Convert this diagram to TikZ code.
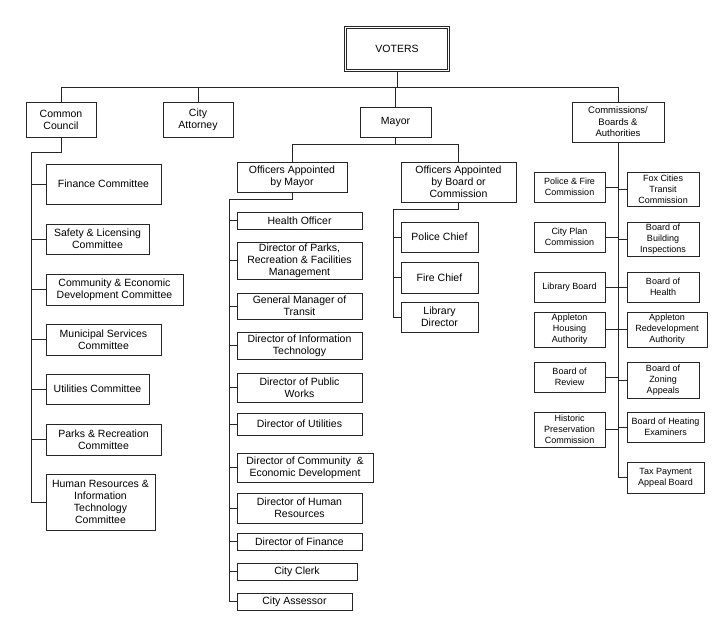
\documentclass[tikz,border=0pt]{standalone}
\usepackage{fontspec}
\setmainfont{Liberation Sans}
\usetikzlibrary{calc}
\tikzset{
	unit/.style={draw=black!85, line width=0.7pt, align=center, inner sep=1pt, font=\fontsize{10.5}{12}\selectfont},
	smallunit/.style={unit, font=\fontsize{9}{11}\selectfont},
	wire/.style={draw=black!85, line width=0.7pt},
}

\begin{document}
\begin{tikzpicture}[x=1pt, y=-1pt]
		%%%%% START %%%%%
		\useasboundingbox (0,0) rectangle (725,644);
		
		\node[unit, double, double distance=1.6pt, minimum width=103pt, minimum height=43pt] (voters) at (397,49) {VOTERS};
		
		\node[unit, minimum width=70pt, minimum height=35pt] (council) at (61,119.5) {Common\\Council};
		\node[unit, minimum width=70pt, minimum height=35pt] (attorney) at (198,119.5) {City\\Attorney};
		\node[unit, minimum width=71pt, minimum height=30pt] (mayor) at (395.5,122) {Mayor};
		\node[unit, font=\fontsize{9.5}{11.5}\selectfont, minimum width=92pt, minimum height=40pt] (boards) at (618,122) {Commissions/\\Boards \&\\Authorities};
		
		\coordinate (topbus) at (0,87);
		\draw[wire] (voters.south) -- (voters.south |- topbus);
		\draw[wire] (council.north) |- (boards.north |- topbus) -- (boards.north);
		\draw[wire] (attorney.north) -- (attorney.north |- topbus);
		\draw[wire] (mayor.north) -- (mayor.north |- topbus);
		
		%%%%% COUNCIL %%%%%
		\node[unit, minimum width=115pt, minimum height=40pt] (finance) at (103.5,184) {Finance Committee};
		\node[unit, minimum width=103pt, minimum height=30pt] (safety) at (97.5,239) {Safety \& Licensing\\Committee};
		\node[unit, minimum width=137pt, minimum height=31pt] (econ) at (114.5,289.5) {Community \& Economic\\Development Committee};
		\node[unit, minimum width=115pt, minimum height=31pt] (municipal) at (103.5,339.5) {Municipal Services\\Committee};
		\node[unit, minimum width=103pt, minimum height=30pt] (utilities) at (97.5,389) {Utilities Committee};
		\node[unit, minimum width=115pt, minimum height=31pt] (parks) at (103.5,439.5) {Parks \& Recreation\\Committee};
		\node[unit, minimum width=109pt, minimum height=56pt] (hrit) at (100.5,502) {Human Resources \&\\Information\\Technology\\Committee};
		
		\coordinate (cspine) at (31,152);
		\draw[wire] (council.south) |- (cspine) |- (hrit.west);
		\foreach \n in {finance,safety,econ,municipal,utilities,parks}
			\draw[wire] (\n.west) -- (\n.west -| cspine);
		
		%%%%% MAYOR %%%%%
		\node[unit, minimum width=110pt, minimum height=30pt] (bymayor) at (292,177) {Officers Appointed\\by Mayor};
		\node[unit, minimum width=115pt, minimum height=40pt] (byboard) at (458.5,182) {Officers Appointed\\by Board or\\Commission};
		
		\coordinate (mayorbus) at (0,144);
		\draw[wire] (mayor.south) -- (mayor.south |- mayorbus);
		\draw[wire] (bymayor.north) |- (byboard.north |- mayorbus) -- (byboard.north);
		
		\node[unit, minimum width=125pt, minimum height=17pt] (health) at (299.5,220.5) {Health Officer};
		\node[unit, minimum width=125pt, minimum height=37pt] (parksdir) at (299.5,260.5) {Director of Parks,\\Recreation \& Facilities\\Management};
		\node[unit, minimum width=125pt, minimum height=26pt] (transit) at (299.5,306) {General Manager of\\Transit};
		\node[unit, minimum width=125pt, minimum height=27pt] (infotech) at (299.5,345.5) {Director of Information\\Technology};
		\node[unit, minimum width=125pt, minimum height=29pt] (works) at (299.5,387.5) {Director of Public\\Works};
		\node[unit, minimum width=125pt, minimum height=22pt] (utildir) at (299.5,424) {Director of Utilities};
		\node[unit, minimum width=136pt, minimum height=29pt] (econdir) at (305,467.5) {Director of Community \ \&\\Economic Development};
		\node[unit, minimum width=125pt, minimum height=30pt] (hrdir) at (299.5,508) {Director of Human\\Resources};
		\node[unit, minimum width=125pt, minimum height=17pt] (financedir) at (299.5,541.5) {Director of Finance};
		\node[unit, minimum width=120pt, minimum height=17pt] (clerk) at (297,571.5) {City Clerk};
		\node[unit, minimum width=115pt, minimum height=17pt] (assessor) at (294.5,601.5) {City Assessor};
		
		\coordinate (mspine) at (229,199);
		\draw[wire] (bymayor.south) |- (mspine) |- (assessor.west);
		\foreach \n in {health,parksdir,transit,infotech,works,utildir,econdir,hrdir,financedir,clerk}
			\draw[wire] (\n.west) -- (\n.west -| mspine);
		
		\node[unit, minimum width=77pt, minimum height=30pt] (police) at (439.5,237) {Police Chief};
		\node[unit, minimum width=77pt, minimum height=31pt] (fire) at (439.5,277.5) {Fire Chief};
		\node[unit, minimum width=77pt, minimum height=30pt] (librarydir) at (439.5,317) {Library\\Director};
		
		\coordinate (bspine) at (393,209);
		\draw[wire] (byboard.south) |- (bspine) |- (librarydir.west);
		\draw[wire] (police.west) -- (police.west -| bspine);
		\draw[wire] (fire.west) -- (fire.west -| bspine);
		
		%%%%% BOARDS %%%%%
		\node[smallunit, minimum width=71pt, minimum height=30pt] (policefire) at (569.5,187) {Police \& Fire\\Commission};
		\node[smallunit, minimum width=71pt, minimum height=30pt] (cityplan) at (569.5,237) {City Plan\\Commission};
		\node[smallunit, minimum width=71pt, minimum height=30pt] (libboard) at (569.5,287) {Library Board};
		\node[smallunit, minimum width=71pt, minimum height=35pt] (housing) at (569.5,329.5) {Appleton\\Housing\\Authority};
		\node[smallunit, minimum width=71pt, minimum height=30pt] (review) at (569.5,377) {Board of\\Review};
		\node[smallunit, minimum width=71pt, minimum height=35pt] (historic) at (569.5,429.5) {Historic\\Preservation\\Commission};
		
		\node[smallunit, minimum width=72pt, minimum height=34pt] (transitcomm) at (663,189) {Fox Cities\\Transit\\Commission};
		\node[smallunit, minimum width=72pt, minimum height=34pt] (building) at (663,239) {Board of\\Building\\Inspections};
		\node[smallunit, minimum width=72pt, minimum height=30pt] (healthboard) at (663,287) {Board of\\Health};
		\node[smallunit, minimum width=80pt, minimum height=35pt] (redev) at (667,329.5) {Appleton\\Redevelopment\\Authority};
		\node[smallunit, minimum width=72pt, minimum height=36pt] (zoning) at (663,380) {Board of\\Zoning\\Appeals};
		\node[smallunit, minimum width=77pt, minimum height=30pt] (heating) at (665.5,427) {Board of Heating\\Examiners};
		\node[smallunit, minimum width=77pt, minimum height=31pt] (taxboard) at (665.5,477.5) {Tax Payment\\Appeal Board};
		
		\draw[wire] (boards.south) |- (taxboard.west);
		\foreach \n in {policefire,cityplan,libboard,housing,review,historic}
			\draw[wire] (\n.east) -- (\n.east -| boards.south);
		\foreach \n in {transitcomm,building,healthboard,redev,zoning,heating}
			\draw[wire] (\n.west) -- (\n.west -| boards.south);
		
		%%%%% END %%%%%
	\end{tikzpicture}
\end{document}
